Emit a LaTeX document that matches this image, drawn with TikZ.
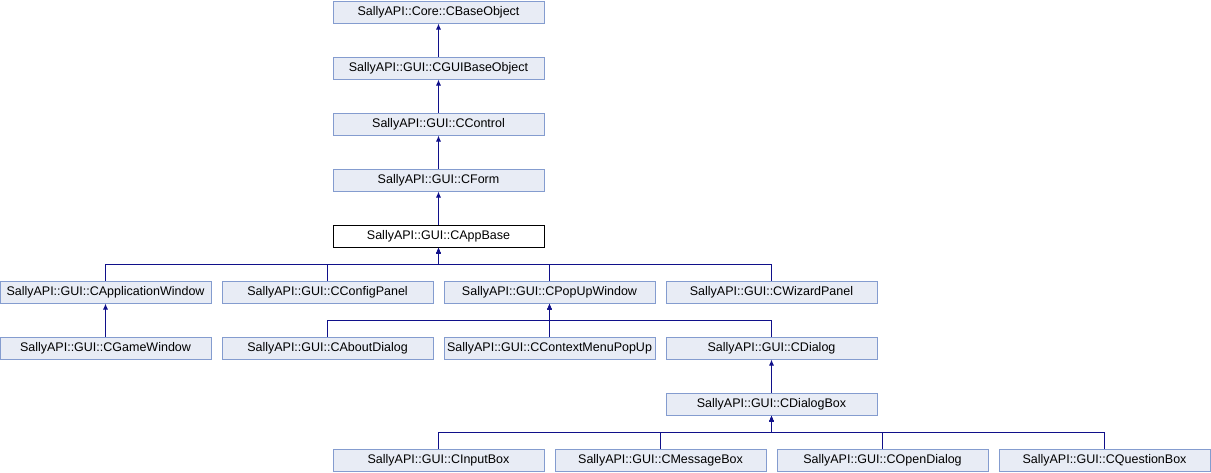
\documentclass[tikz,border=0pt]{standalone}
\usepackage{fontspec}
\setmainfont{Liberation Sans}
\usetikzlibrary{arrows.meta}
\definecolor{boxfill}{HTML}{E8ECF5}
\definecolor{boxdraw}{HTML}{849CCF}
\definecolor{edgecol}{HTML}{10108A}
\tikzset{
  cls/.style={draw=boxdraw, fill=boxfill, line width=1pt, minimum width=211pt, minimum height=22pt, inner sep=0pt, font=\fontsize{12.5}{14}\selectfont, anchor=center},
  curcls/.style={cls, draw=black, fill=white},
  edge/.style={draw=edgecol, line width=1pt, {Latex[length=6pt,width=5pt]}-}
}
\begin{document}
\begin{tikzpicture}[x=1pt,y=-1pt]
\useasboundingbox (0,0) rectangle (1211,472);
% rows 1-5
\node[cls] (base) at (438.5,12) {SallyAPI::Core::CBaseObject};
\node[cls] (guibase) at (438.5,68) {SallyAPI::GUI::CGUIBaseObject};
\node[cls] (control) at (438.5,124) {SallyAPI::GUI::CControl};
\node[cls] (form) at (438.5,180) {SallyAPI::GUI::CForm};
\node[curcls] (appbase) at (438.5,236) {SallyAPI::GUI::CAppBase};
% row 6
\node[cls] (appwin) at (105.5,292) {SallyAPI::GUI::CApplicationWindow};
\node[cls] (config) at (327.5,292) {SallyAPI::GUI::CConfigPanel};
\node[cls] (popup) at (549.5,292) {SallyAPI::GUI::CPopUpWindow};
\node[cls] (wizard) at (771.5,292) {SallyAPI::GUI::CWizardPanel};
% row 7
\node[cls] (game) at (105.5,348) {SallyAPI::GUI::CGameWindow};
\node[cls] (about) at (327.5,348) {SallyAPI::GUI::CAboutDialog};
\node[cls] (ctxmenu) at (549.5,348) {SallyAPI::GUI::CContextMenuPopUp};
\node[cls] (dialog) at (771.5,348) {SallyAPI::GUI::CDialog};
% row 8
\node[cls] (dialogbox) at (771.5,404) {SallyAPI::GUI::CDialogBox};
% row 9
\node[cls] (input) at (438.5,460) {SallyAPI::GUI::CInputBox};
\node[cls] (message) at (660.5,460) {SallyAPI::GUI::CMessageBox};
\node[cls] (open) at (882.5,460) {SallyAPI::GUI::COpenDialog};
\node[cls] (question) at (1104.5,460) {SallyAPI::GUI::CQuestionBox};
% edges
\draw[edge] (base.south) -- (guibase.north);
\draw[edge] (guibase.south) -- (control.north);
\draw[edge] (control.south) -- (form.north);
\draw[edge] (form.south) -- (appbase.north);
\foreach \c in {appwin,config,popup,wizard}
  \draw[edge] (appbase.south) -- ++(0,17) -| (\c.north);
\draw[edge] (appwin.south) -- (game.north);
\foreach \c in {about,ctxmenu,dialog}
  \draw[edge] (popup.south) -- ++(0,17) -| (\c.north);
\draw[edge] (dialog.south) -- (dialogbox.north);
\foreach \c in {input,message,open,question}
  \draw[edge] (dialogbox.south) -- ++(0,17) -| (\c.north);
\end{tikzpicture}
\end{document}
